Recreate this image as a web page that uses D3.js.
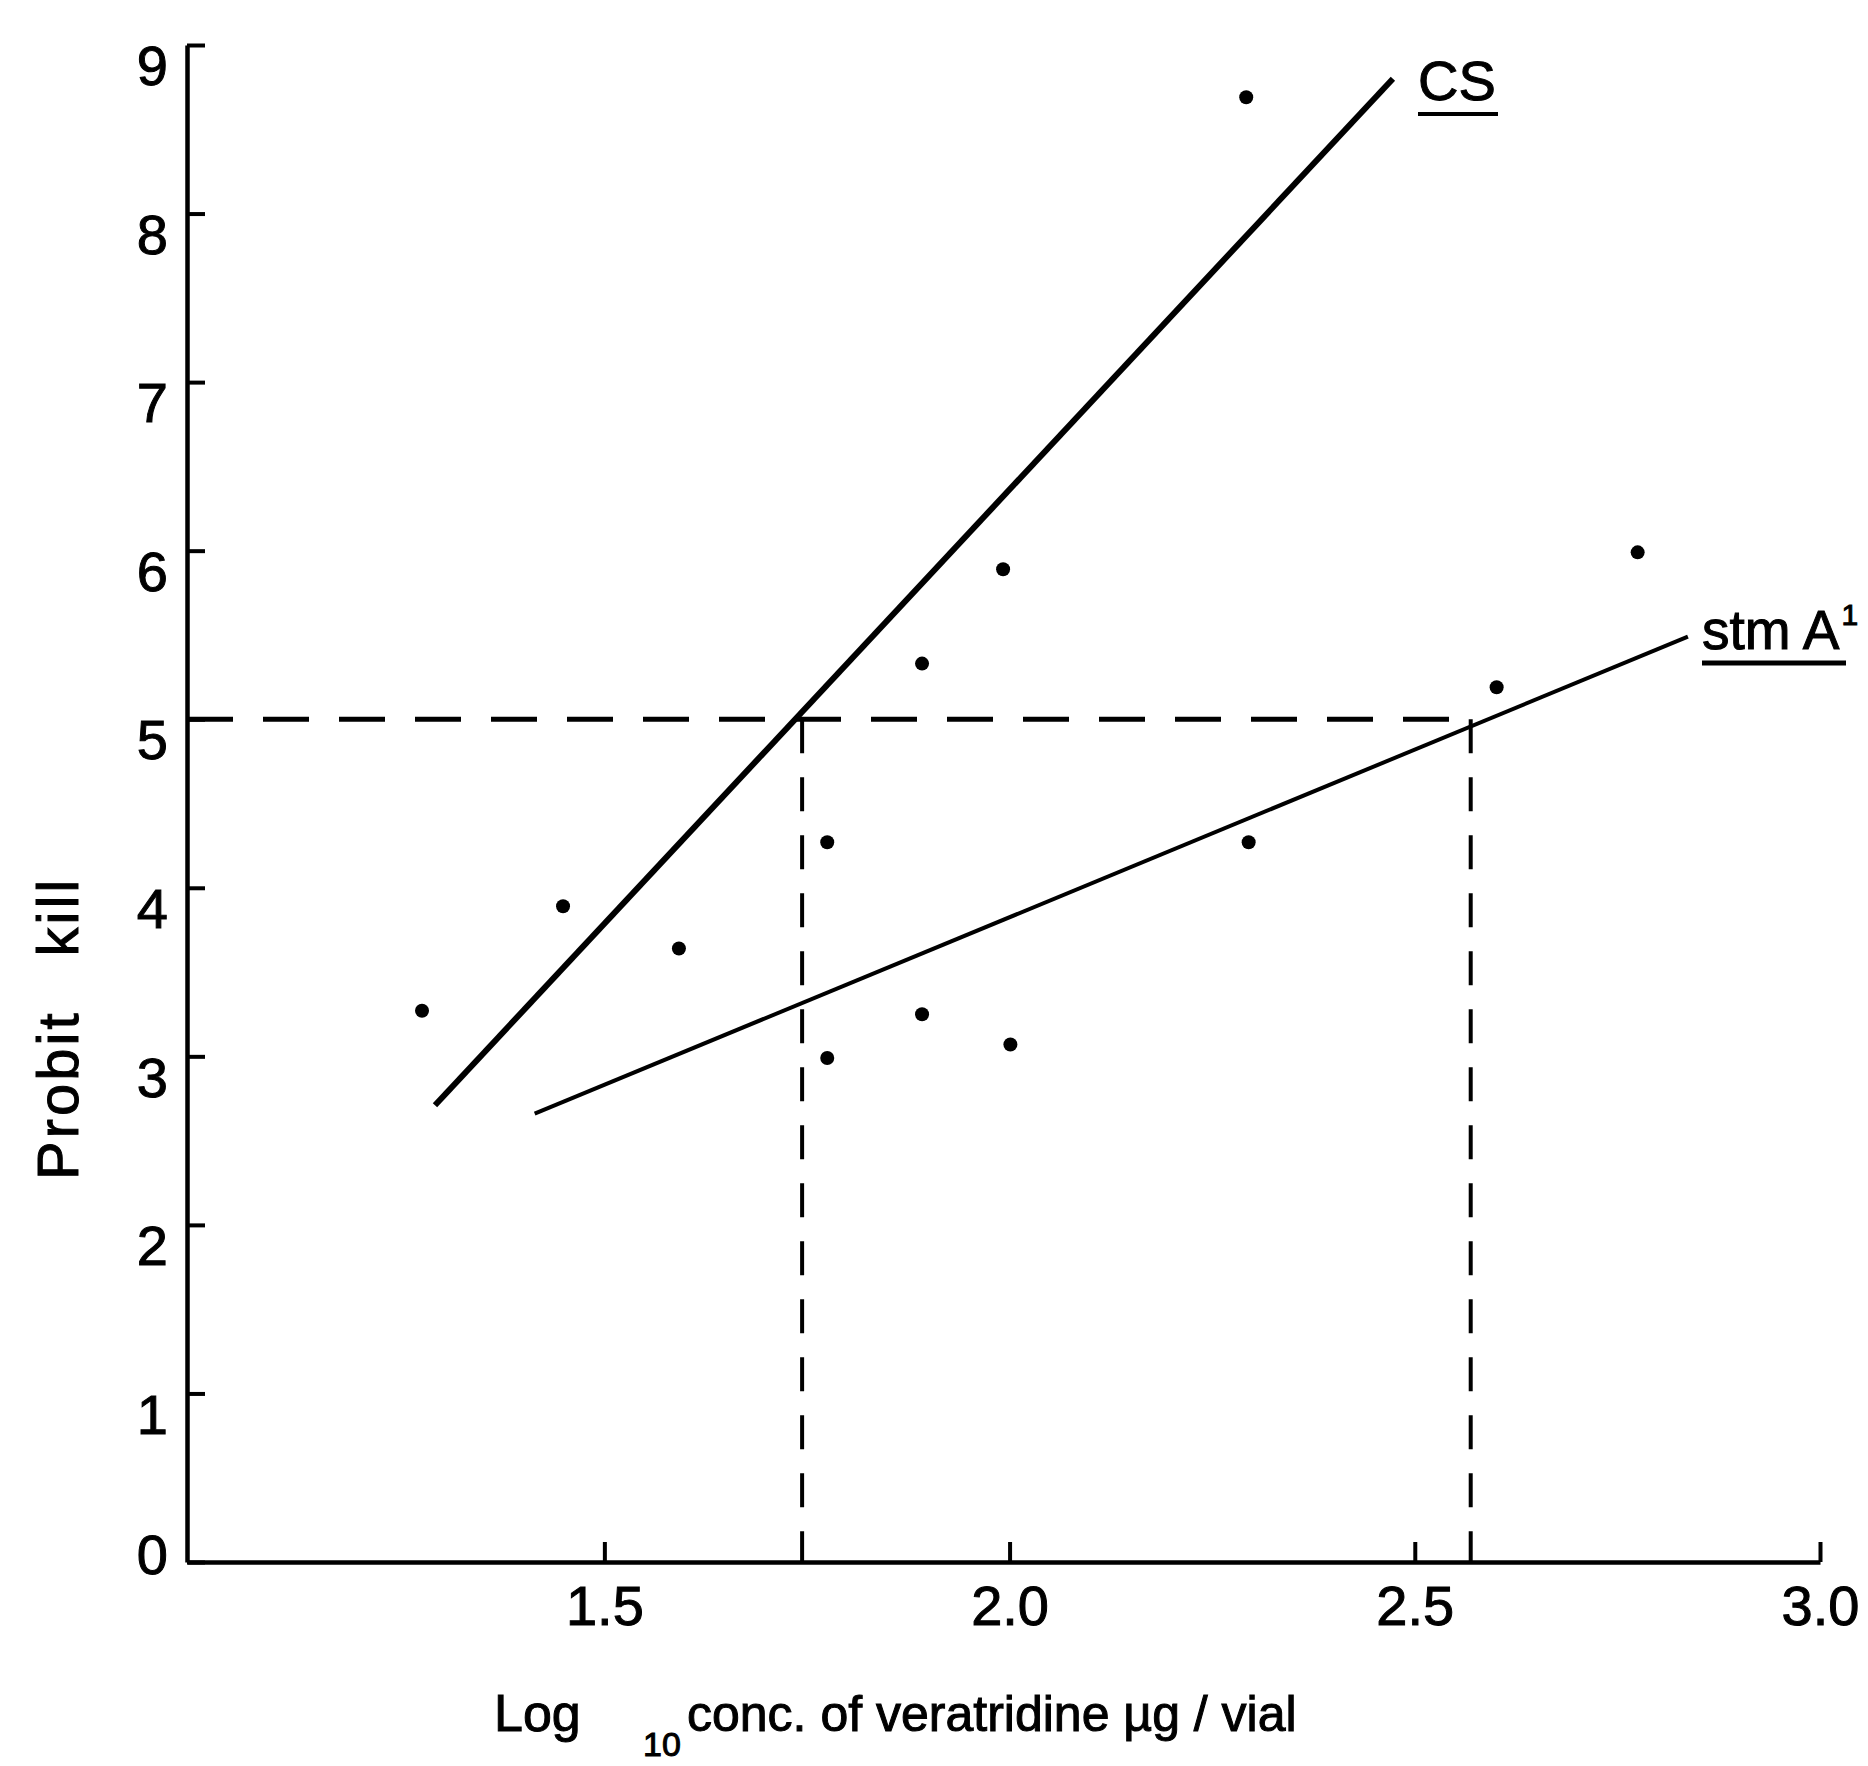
<!DOCTYPE html>
<html>
<head>
<meta charset="utf-8">
<script src="https://cdn.jsdelivr.net/npm/d3@7"></script>
<style>
  body { margin: 0; background: #fff; }
  svg { display: block; }
  text { font-family: "Liberation Sans", Arial, sans-serif; fill: #000; stroke: #000; stroke-width: 1; }
</style>
</head>
<body>
<svg id="chart"></svg>
<script>
var xTicks = [1.5, 2.0, 2.5, 3.0]
var yTicks = [0, 1, 2, 3, 4, 5, 6, 7, 8, 9]

// observed points: log10 dose vs probit kill
var logDose = [1.275, 1.449, 1.592, 1.775, 1.775, 1.892, 1.892, 1.992, 2.001, 2.292, 2.295, 2.601, 2.775]
var probit = [3.27, 3.89, 3.64, 4.27, 2.99, 5.33, 3.25, 5.89, 3.07, 8.69, 4.27, 5.19, 5.99]

// fitted lines (end points)
var csLine = [[1.291, 2.71], [2.473, 8.80]]
var stmLine = [[1.414, 2.66], [2.837, 5.49]]

// LD50 (probit 5)
var ld50 = [1.744, 2.569]
var probit50 = 5

var width = 1868
var height = 1766

var svg = d3.select('#chart')
  .attr('width', width)
  .attr('height', height)
  .attr('viewBox', `0 0 ${width} ${height}`)

var x = d3.scaleLinear()
  .domain([0.985, 3.0])
  .range([187, 1820])

var y = d3.scaleLinear()
  .domain([0, 9])
  .range([1562, 45])

// x axis
var xAxis = svg.append('g')
  .attr('transform', `translate(0,${y(0)})`)
  .call(d3.axisBottom(x)
    .tickValues(xTicks)
    .tickFormat(d3.format('.1f'))
    .tickSizeInner(-20)
    .tickSizeOuter(0)
    .tickPadding(23))

// y axis
var yAxis = svg.append('g')
  .attr('transform', `translate(${x(0.985)},0)`)
  .call(d3.axisLeft(y)
    .tickValues(yTicks)
    .tickFormat(d3.format('d'))
    .tickSizeInner(-18)
    .tickSizeOuter(0)
    .tickPadding(19))

svg.selectAll('.domain')
  .attr('stroke', '#000')
  .attr('stroke-width', 4.5)
svg.selectAll('.tick line')
  .attr('stroke', '#000')
  .attr('stroke-width', 4)
svg.selectAll('.tick text')
  .attr('font-family', '"Liberation Sans", Arial, sans-serif')
  .attr('font-size', 56)
  .attr('fill', '#000')
yAxis.selectAll('.tick text')
  .attr('dy', function (d) { return d === 0 ? '0.2em' : '0.71em' })

// dashed guides at probit 5
svg.append('line')
  .attr('x1', x(0.985))
  .attr('x2', x(ld50[1]))
  .attr('y1', y(probit50))
  .attr('y2', y(probit50))
  .attr('stroke', '#000')
  .attr('stroke-width', 5)
  .attr('stroke-dasharray', '46,30')

svg.selectAll('.drop')
  .data(ld50)
  .enter().append('line')
    .attr('class', 'drop')
    .attr('x1', function (d) { return x(d) })
    .attr('x2', function (d) { return x(d) })
    .attr('y1', y(probit50))
    .attr('y2', y(0))
    .attr('stroke', '#000')
    .attr('stroke-width', 4)
    .attr('stroke-dasharray', '34,24')

// regression lines
var line = d3.line()
  .x(function (d) { return x(d[0]) })
  .y(function (d) { return y(d[1]) })

svg.append('path')
  .attr('d', line(csLine))
  .attr('fill', 'none')
  .attr('stroke', '#000')
  .attr('stroke-width', 6)

svg.append('path')
  .attr('d', line(stmLine))
  .attr('fill', 'none')
  .attr('stroke', '#000')
  .attr('stroke-width', 4)

// points
svg.selectAll('.pt')
  .data(logDose)
  .enter().append('circle')
    .attr('class', 'pt')
    .attr('cx', function (d) { return x(d) })
    .attr('cy', function (d, i) { return y(probit[i]) })
    .attr('r', 7)
    .attr('fill', '#000')

// line labels (underlined)
svg.append('text')
  .attr('x', 1418)
  .attr('y', 100)
  .attr('font-size', 56)
  .text('CS')
svg.append('line')
  .attr('x1', 1418).attr('x2', 1498)
  .attr('y1', 114).attr('y2', 114)
  .attr('stroke', '#000').attr('stroke-width', 4)

var stm = svg.append('text')
  .attr('x', 1702)
  .attr('y', 649)
  .attr('font-size', 55)
stm.append('tspan').text('stm A')
stm.append('tspan')
  .attr('font-size', 30)
  .attr('dx', 2)
  .attr('dy', -24)
  .text('1')
svg.append('line')
  .attr('x1', 1702).attr('x2', 1846)
  .attr('y1', 663).attr('y2', 663)
  .attr('stroke', '#000').attr('stroke-width', 5)

// axis titles
var xt = svg.append('text')
  .attr('x', 494)
  .attr('y', 1731)
  .attr('font-size', 52)
xt.append('tspan').text('Log')
xt.append('tspan')
  .attr('x', 643)
  .attr('y', 1756)
  .attr('font-size', 34)
  .text('10')
xt.append('tspan')
  .attr('x', 687)
  .attr('y', 1731)
  .attr('font-size', 50)
  .text('conc. of veratridine µg / vial')

var yt = svg.append('text')
  .attr('transform', 'translate(78,1180) rotate(-90)')
  .attr('font-size', 58)
  .attr('letter-spacing', 3)
yt.append('tspan').text('Probit')
yt.append('tspan').attr('dx', 54).text('kill')
</script>
</body>
</html>
